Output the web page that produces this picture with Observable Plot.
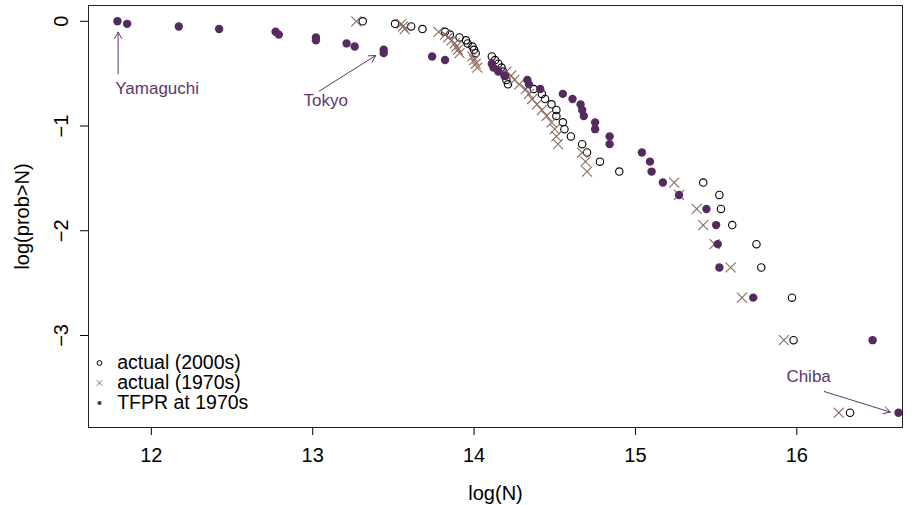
<!DOCTYPE html>
<html><head><meta charset="utf-8">
<script src="https://cdn.jsdelivr.net/npm/d3@7"></script>
<script src="https://cdn.jsdelivr.net/npm/@observablehq/plot@0.6"></script>
<style>
html,body{margin:0;padding:0;background:#fff;}
#chart svg{display:block;}
</style>
</head><body><div id="chart"></div>
<script>
// log(prob>N) levels, one per prefecture rank (largest N last)
const yLevels = [0, -0.024, -0.049, -0.074, -0.100, -0.127, -0.154, -0.182, -0.211, -0.241,
  -0.272, -0.304, -0.336, -0.370, -0.405, -0.442, -0.480, -0.519, -0.560, -0.602,
  -0.647, -0.693, -0.742, -0.793, -0.847, -0.904, -0.965, -1.030, -1.099, -1.173,
  -1.253, -1.340, -1.435, -1.540, -1.658, -1.792, -1.946, -2.128, -2.351, -2.639,
  -3.045, -3.738];
// log(N) values
const x2000s = [13.31, 13.51, 13.61, 13.68, 13.82, 13.85, 13.91, 13.95, 13.96, 13.99,
  14.00, 14.01, 14.11, 14.13, 14.15, 14.17, 14.18, 14.19, 14.20, 14.21,
  14.37, 14.42, 14.44, 14.48, 14.51, 14.51, 14.55, 14.56, 14.60, 14.67,
  14.70, 14.78, 14.90, 15.42, 15.52, 15.53, 15.60, 15.75, 15.78, 15.97,
  15.98, 16.33];
const x1970s = [13.27, 13.55, 13.56, 13.57, 13.78, 13.82, 13.84, 13.86, 13.88, 13.89,
  13.90, 13.91, 13.99, 14.00, 14.01, 14.02, 14.20, 14.23, 14.25, 14.28,
  14.32, 14.34, 14.36, 14.39, 14.42, 14.45, 14.48, 14.50, 14.51, 14.52,
  14.67, 14.69, 14.70, 15.24, 15.27, 15.38, 15.42, 15.49, 15.59, 15.66,
  15.92, 16.26];
const xTFPR = [11.79, 11.85, 12.17, 12.42, 12.77, 12.79, 13.02, 13.02, 13.21, 13.26,
  13.44, 13.44, 13.74, 13.82, 14.11, 14.12, 14.15, 14.19, 14.33, 14.34,
  14.41, 14.55, 14.61, 14.66, 14.67, 14.68, 14.75, 14.75, 14.84, 14.84,
  15.04, 15.09, 15.10, 15.17, 15.27, 15.44, 15.50, 15.51, 15.52, 15.73,
  16.47, 16.63];
const seriesNames = ["actual (2000s)", "actual (1970s)", "TFPR at 1970s"];
const xTicks = [12, 13, 14, 15, 16];
const yTicks = [0, -1, -2, -3];
const annotLabels = ["Yamaguchi", "Tokyo", "Chiba"];
const annotTextX = [12.036, 13.081, 16.073];
const annotTextY = [-0.645, -0.756, -3.39];
const arrowFromX = [11.794, 13.04, 16.17];
const arrowFromY = [-0.50, -0.667, -3.535];
const arrowToX = [11.794, 13.39, 16.579];
const arrowToY = [-0.104, -0.327, -3.732];

const purple = "#552a5e";
const brown = "#8a6b60";
const annColor = "#5d386a";

const toRows = xs => xs.map((x, i) => ({x, y: yLevels[i]}));
const d2000 = toRows(x2000s), d1970 = toRows(x1970s), dTFPR = toRows(xTFPR);
const annots = annotLabels.map((label, i) => ({label, tx: annotTextX[i], ty: annotTextY[i],
  x1: arrowFromX[i], y1: arrowFromY[i], x2: arrowToX[i], y2: arrowToY[i]}));

const legendRows = [-64.5, -44.5, -24.5];
const legendMarks = [
  Plot.dot([0], {frameAnchor: "bottom-left", dx: 11, dy: legendRows[0], r: 2.4, stroke: "#000", strokeWidth: 1, fill: "none"}),
  Plot.dot([0], {frameAnchor: "bottom-left", dx: 11, dy: legendRows[1], r: 2.6, symbol: "times", stroke: brown, strokeWidth: 1}),
  Plot.dot([0], {frameAnchor: "bottom-left", dx: 11, dy: legendRows[2], r: 2.1, fill: purple}),
  ...seriesNames.map((s, i) => Plot.text([s], {text: d => d, frameAnchor: "bottom-left", dx: 28.7, dy: legendRows[i],
    textAnchor: "start", lineAnchor: "middle", fontSize: 19.5, lineHeight: 1, fill: "#000"}))
];

const chart = Plot.plot({
  width: 918, height: 505,
  marginLeft: 88, marginRight: 16, marginTop: 5, marginBottom: 78,
  x: {domain: [11.6105, 16.655], label: null},
  y: {domain: [-3.879, 0.151], label: null},
  style: {fontFamily: "'Liberation Sans', Arial, Helvetica, sans-serif", fontSize: "20px", background: "#fff", color: "#000"},
  marks: [
    Plot.axisX({ticks: xTicks, tickSize: 8, tickPadding: 12, fontSize: 20, label: null, tickFormat: d3.format("d")}),
    Plot.axisY({ticks: yTicks, tickSize: 8, tickPadding: 13, tickRotate: -90, fontSize: 20, label: null, tickFormat: d3.format("d")}),
    Plot.text(["log(N)"], {text: d => d, frameAnchor: "bottom", dy: 72, lineAnchor: "bottom", fontSize: 20, fill: "#000"}),
    Plot.text(["log(prob>N)"], {text: d => d, frameAnchor: "left", dx: -60, rotate: -90, textAnchor: "middle", lineAnchor: "bottom", fontSize: 20, fill: "#000"}),
    Plot.dot(d2000, {x: "x", y: "y", r: 3.7, stroke: "#000", strokeWidth: 1.1, fill: "none"}),
    Plot.dot(d1970, {x: "x", y: "y", r: 4.6, symbol: "times", stroke: brown, strokeWidth: 1.1}),
    Plot.dot(dTFPR, {x: "x", y: "y", r: 4.2, fill: purple}),
    Plot.arrow(annots, {x1: "x1", y1: "y1", x2: "x2", y2: "y2", stroke: annColor, strokeWidth: 1, headLength: 11, headAngle: 60}),
    Plot.text(annots, {x: "tx", y: "ty", text: "label", fill: annColor, fontSize: 17}),
    ...legendMarks,
    Plot.frame({stroke: "#222", strokeWidth: 1})
  ]
});
document.getElementById("chart").appendChild(chart);
</script>
</body></html>
